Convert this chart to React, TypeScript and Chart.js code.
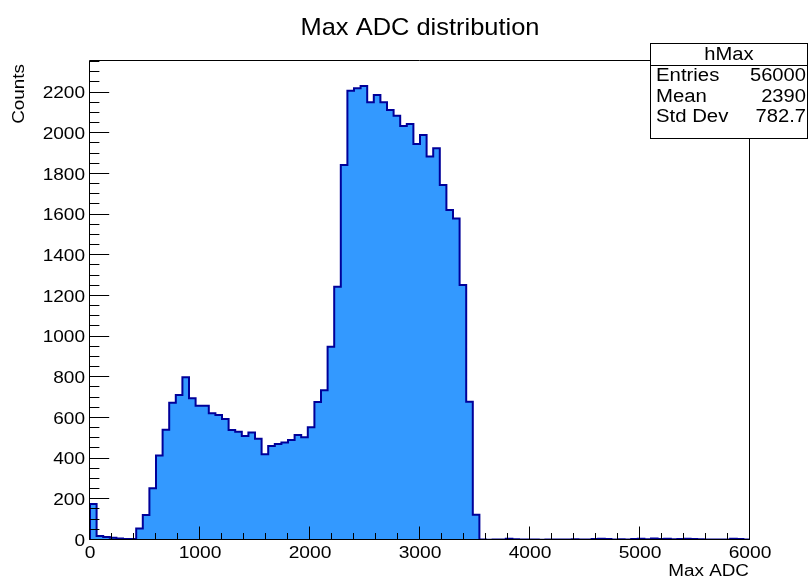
import React, { useEffect, useRef } from "react";
import { Chart, registerables } from "chart.js";

Chart.register(...registerables);

// ---- data ----
const binWidth = 60;
const counts = [
  177, 20, 15, 11, 7, 5, 5, 57, 123, 254,
  415, 542, 675, 713, 800, 697, 660, 660, 623, 615,
  595, 541, 532, 511, 528, 498, 421, 462, 472, 479,
  492, 516, 505, 554, 678, 736, 950, 1245, 1844, 2209,
  2221, 2232, 2152, 2188, 2152, 2114, 2086, 2035, 2045, 1947,
  1991, 1885, 1926, 1745, 1622, 1581, 1254, 680, 124, 2,
  1, 2, 3, 6, 4, 2, 3, 2, 1, 3,
  2, 3, 2, 4, 3, 2, 5, 6, 5, 3,
  4, 2, 5, 6, 4, 7, 5, 6, 4, 5,
  6, 5, 4, 3, 2, 3, 2, 6, 5, 3,
];
const xMajorTicks = [0, 1000, 2000, 3000, 4000, 5000, 6000];
const yMajorTicks = [0, 200, 400, 600, 800, 1000, 1200, 1400, 1600, 1800, 2000, 2200];
const xMinorStep = 200;
const yMinorStep = 50;
const xMin = 0;
const xMax = 6000;
const yMax = 2355;
const titleText = "Max ADC distribution";
const xTitle = "Max ADC";
const yTitle = "Counts";
const statsName = "hMax";
const statsLabels = ["Entries", "Mean", "Std Dev"];
const statsValues = ["56000", "2390", "782.7"];

const FONT = '"Liberation Sans", Arial, Helvetica, sans-serif';

function drawText(
  ctx: CanvasRenderingContext2D,
  text: string,
  x: number,
  y: number,
  size: number,
  sx: number,
  align: CanvasTextAlign,
  baseline: CanvasTextBaseline,
  rot = 0
) {
  ctx.save();
  ctx.translate(x, y);
  if (rot) ctx.rotate(rot);
  ctx.scale(sx, 1);
  ctx.font = `${size}px ${FONT}`;
  ctx.textAlign = align;
  ctx.textBaseline = baseline;
  ctx.fillStyle = "#000";
  ctx.fillText(text, 0, 0);
  ctx.restore();
}

const rootDecor = {
  id: "rootDecor",
  afterDatasetsDraw(chart: any) {
    const { ctx, chartArea: a, scales } = chart;
    const xs = scales.x;
    const ys = scales.y;
    ctx.save();
    ctx.strokeStyle = "#000";
    ctx.lineWidth = 1;
    // frame
    ctx.beginPath();
    ctx.rect(a.left - 0.5, a.top - 0.5, a.right - a.left, a.bottom - a.top);
    ctx.stroke();

    // y ticks (inside, from left axis)
    ctx.beginPath();
    for (let v = 0; v <= yMax; v += yMinorStep) {
      const py = Math.round(ys.getPixelForValue(v)) - 0.5;
      const major = yMajorTicks.includes(v);
      const len = major ? 19.7 : 9.9;
      ctx.moveTo(a.left - 0.5, py);
      ctx.lineTo(a.left - 0.5 + len, py);
    }
    // x ticks (inside, from bottom axis)
    for (let v = xMin; v <= xMax; v += xMinorStep) {
      const px = Math.round(xs.getPixelForValue(v)) - 0.5;
      const major = xMajorTicks.includes(v);
      const len = major ? 13 : 6.5;
      ctx.moveTo(px, a.bottom - 0.5);
      ctx.lineTo(px, a.bottom - 0.5 - len);
    }
    ctx.stroke();

    // tick labels
    for (const v of yMajorTicks) {
      drawText(ctx, String(v), a.left - 5, ys.getPixelForValue(v) + 1, 17, 1.12, "right", "middle");
    }
    for (const v of xMajorTicks) {
      drawText(ctx, String(v), xs.getPixelForValue(v), a.bottom + 5, 17, 1.13, "center", "top");
    }

    // axis titles
    drawText(ctx, xTitle, a.right - 1, 572, 16, 1.18, "right", "middle");
    drawText(ctx, yTitle, 20, a.top + 3, 16, 1.18, "right", "middle", -Math.PI / 2);

    // title
    drawText(ctx, titleText, 420, 28, 24, 1.06, "center", "middle");

    // stats box
    const bx = 650.5, by = 43.5, bw = 157, bh = 95;
    ctx.fillStyle = "#fff";
    ctx.fillRect(bx, by, bw, bh);
    ctx.strokeStyle = "#000";
    ctx.strokeRect(bx, by, bw, bh);
    ctx.beginPath();
    ctx.moveTo(bx, 65.5);
    ctx.lineTo(bx + bw, 65.5);
    ctx.stroke();
    drawText(ctx, statsName, bx + bw / 2, 55, 18, 1.12, "center", "middle");
    const rowY = [76.5, 97, 117.5];
    statsLabels.forEach((lab, i) => {
      drawText(ctx, lab, 656, rowY[i], 18, 1.13, "left", "middle");
      drawText(ctx, statsValues[i], 806, rowY[i], 18, 1.12, "right", "middle");
    });
    ctx.restore();
  },
};

export default function App() {
  const canvasRef = useRef<HTMLCanvasElement | null>(null);

  useEffect(() => {
    document.body.style.margin = "0";
    const canvas = canvasRef.current;
    if (!canvas) return;
    const points: { x: number; y: number }[] = [{ x: xMin, y: 0 }];
    counts.forEach((c, i) => points.push({ x: xMin + i * binWidth, y: c }));
    points.push({ x: xMin + counts.length * binWidth, y: counts[counts.length - 1] });
    points.push({ x: xMin + counts.length * binWidth, y: 0 });

    const chart = new Chart(canvas, {
      type: "line",
      data: {
        datasets: [
          {
            data: points,
            stepped: "before",
            fill: "origin",
            backgroundColor: "#3399ff",
            borderColor: "#000099",
            borderWidth: 2,
            pointRadius: 0,
            borderJoinStyle: "miter",
          },
        ],
      },
      options: {
        animation: false,
        responsive: false,
        devicePixelRatio: 1,
        parsing: false,
        layout: { padding: { left: 90, right: 60, top: 61, bottom: 45 } },
        plugins: { legend: { display: false }, tooltip: { enabled: false }, title: { display: false } },
        scales: {
          x: { type: "linear", min: xMin, max: xMax, display: false },
          y: { type: "linear", min: 0, max: yMax, display: false },
        },
      },
      plugins: [rootDecor],
    });
    return () => chart.destroy();
  }, []);

  return (
    <div style={{ width: 810, height: 585 }}>
      <canvas ref={canvasRef} width={810} height={585} />
    </div>
  );
}
